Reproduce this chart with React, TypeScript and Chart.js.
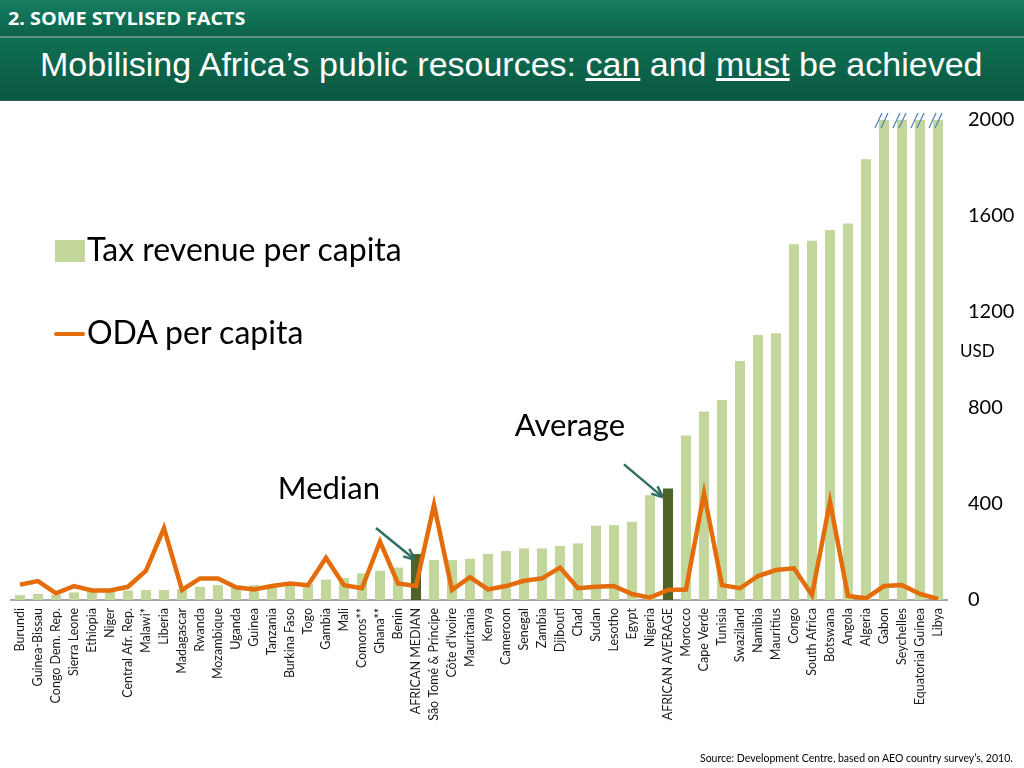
import React, { useEffect, useRef } from "react";
import { Chart, registerables } from "chart.js";

Chart.register(...registerables);

const categories: string[] = [
  "Burundi", "Guinea-Bissau", "Congo Dem. Rep.", "Sierra Leone", "Ethiopia", "Niger",
  "Central Afr. Rep.", "Malawi*", "Liberia", "Madagascar", "Rwanda", "Mozambique",
  "Uganda", "Guinea", "Tanzania", "Burkina Faso", "Togo", "Gambia", "Mali", "Comoros**",
  "Ghana**", "Benin", "AFRICAN MEDIAN", "São Tomé & Principe", "Côte d'Ivoire",
  "Mauritania", "Kenya", "Cameroon", "Senegal", "Zambia", "Djibouti", "Chad", "Sudan",
  "Lesotho", "Egypt", "Nigeria", "AFRICAN AVERAGE", "Morocco", "Cape Verde", "Tunisia",
  "Swaziland", "Namibia", "Mauritius", "Congo", "South Africa", "Botswana", "Angola",
  "Algeria", "Gabon", "Seychelles", "Equatorial Guinea", "Libya",
];

// Tax revenue per capita (USD); bars beyond 2000 are shown cut at the axis maximum
const taxRevenue: number[] = [
  20, 25, 22, 32, 35, 35, 40, 42, 42, 45, 55, 62,
  52, 62, 55, 58, 65, 85, 92, 111,
  122, 135, 192, 167, 167,
  172, 192, 204, 215, 215, 225, 236, 310,
  312, 326, 436, 465, 685, 785, 833,
  996, 1104, 1111, 1482, 1497, 1542, 1569,
  1836, 2000, 2000, 2000, 2000,
];

// ODA per capita (USD)
const odaPerCapita: number[] = [
  64, 79, 28, 58, 40, 40, 55, 122, 299, 42, 90, 90,
  53, 44, 58, 69, 62, 176, 62, 49,
  243, 69, 58, 396, 42,
  95, 44, 58, 80, 90, 135, 49, 55,
  58, 25, 10, 42, 44, 444, 62,
  49, 100, 125, 132, 21, 410, 17,
  7, 58, 62, 25, 4,
];

const yTicks: number[] = [0, 400, 800, 1200, 1600, 2000];
const cappedAt = 2000;

const LIGHT_GREEN = "#c3d69b";
const DARK_GREEN = "#4f6228";
const ORANGE = "#e46c0a";
const FONT = "Lato, 'Open Sans', sans-serif";

const annotationPlugin = {
  id: "annotations",
  afterDatasetsDraw(chart: any) {
    const { ctx } = chart;
    const x = chart.scales.x;
    const y = chart.scales.y;
    const drawArrow = (x1: number, y1: number, x2: number, y2: number) => {
      ctx.save();
      ctx.strokeStyle = "#2f6e60";
      ctx.lineWidth = 2.5;
      ctx.beginPath();
      ctx.moveTo(x1, y1);
      ctx.lineTo(x2, y2);
      ctx.stroke();
      const ang = Math.atan2(y2 - y1, x2 - x1);
      const len = 11;
      ctx.beginPath();
      ctx.moveTo(x2 + 1, y2 + 1);
      ctx.lineTo(x2 - len * Math.cos(ang - 0.45), y2 - len * Math.sin(ang - 0.45));
      ctx.moveTo(x2 + 1, y2 + 1);
      ctx.lineTo(x2 - len * Math.cos(ang + 0.45), y2 - len * Math.sin(ang + 0.45));
      ctx.stroke();
      ctx.restore();
    };
    const mi = categories.indexOf("AFRICAN MEDIAN");
    const ai = categories.indexOf("AFRICAN AVERAGE");
    const xm = x.getPixelForValue(mi);
    const ym = y.getPixelForValue(taxRevenue[mi]);
    const xa = x.getPixelForValue(ai);
    const ya = y.getPixelForValue(taxRevenue[ai]);

    ctx.save();
    ctx.fillStyle = "#000";
    ctx.font = `31px ${FONT}`;
    ctx.textAlign = "right";
    ctx.textBaseline = "alphabetic";
    ctx.fillText("Median", xm - 36, ym - 55);
    ctx.fillText("Average", xa - 43, ya - 52);
    ctx.restore();

    drawArrow(xm - 40, ym - 26, xm - 2, ym + 5);
    drawArrow(xa - 44, ya - 24, xa - 6, ya + 8);

    // break marks on bars cut at the axis maximum
    ctx.save();
    ctx.strokeStyle = "#4a7ebb";
    ctx.lineWidth = 1.2;
    taxRevenue.forEach((v, i) => {
      if (v >= cappedAt) {
        const cx = x.getPixelForValue(i);
        const cy = y.getPixelForValue(cappedAt);
        [-9, -3].forEach((off) => {
          ctx.beginPath();
          ctx.moveTo(cx + off, cy + 8);
          ctx.lineTo(cx + off + 7, cy - 7);
          ctx.stroke();
        });
      }
    });
    ctx.restore();
  },
};

function ChartCanvas() {
  const ref = useRef<HTMLCanvasElement | null>(null);
  useEffect(() => {
    if (!ref.current) return;
    const barColors = categories.map((c) =>
      c.startsWith("AFRICAN") ? DARK_GREEN : LIGHT_GREEN
    );
    const chart = new Chart(ref.current, {
      type: "bar",
      data: {
        labels: categories,
        datasets: [
          {
            type: "line",
            label: "ODA per capita",
            data: odaPerCapita,
            borderColor: ORANGE,
            backgroundColor: ORANGE,
            borderWidth: 4.5,
            pointRadius: 0,
            tension: 0,
            order: 0,
          } as any,
          {
            type: "bar",
            label: "Tax revenue per capita",
            data: taxRevenue,
            backgroundColor: barColors,
            barPercentage: 0.56,
            categoryPercentage: 1,
            order: 1,
          },
        ],
      },
      options: {
        responsive: false,
        animation: false,
        maintainAspectRatio: false,
        layout: { padding: { top: 120, left: 11, right: 0, bottom: 0 } },
        plugins: {
          legend: { display: false },
          tooltip: { enabled: false },
        },
        scales: {
          x: {
            grid: { display: false, drawTicks: false },
            border: { display: true, color: "#a6a6a6", width: 2 },
            ticks: {
              autoSkip: false,
              minRotation: 90,
              maxRotation: 90,
              padding: 8,
              color: "#1a1a1a",
              font: { family: FONT, size: 12.5 },
            },
            afterFit(scale: any) {
              scale.height = 168;
            },
          },
          y: {
            position: "right",
            min: 0,
            max: 2000,
            afterBuildTicks(scale: any) {
              scale.ticks = yTicks.map((v) => ({ value: v }));
            },
            grid: { display: false, drawTicks: false },
            border: { display: false },
            ticks: {
              padding: 21,
              color: "#000",
              font: { family: FONT, size: 20 },
              callback: (v: any) => String(v),
            },
            afterFit(scale: any) {
              scale.width = 77;
            },
          },
        },
      },
      plugins: [annotationPlugin],
    });
    return () => chart.destroy();
  }, []);
  return (
    <canvas
      ref={ref}
      width={1024}
      height={768}
      style={{ position: "absolute", left: 0, top: 0, width: 1024, height: 768 }}
    />
  );
}

export default function App() {
  return (
    <div
      style={{
        position: "absolute",
        left: 0,
        top: 0,
        width: 1024,
        height: 768,
        background: "#fff",
        overflow: "hidden",
        fontFamily: FONT,
      }}
    >
      <ChartCanvas />
      <div
        style={{
          position: "absolute",
          left: 0,
          top: 0,
          width: 1024,
          height: 36,
          background: "linear-gradient(#167d60, #0c6349)",
          borderBottom: "2px solid #5f8f80",
        }}
      >
        <div
          style={{
            position: "absolute",
            left: 8,
            top: 6,
            color: "#fff",
            fontWeight: 700,
            fontSize: 18,
            fontFamily: "'Open Sans', sans-serif",
            transform: "scaleX(1.1)",
            transformOrigin: "left center",
            whiteSpace: "nowrap",
            lineHeight: "24px",
          }}
        >
          2. SOME STYLISED FACTS
        </div>
      </div>
      <div
        style={{
          position: "absolute",
          left: 0,
          top: 38,
          width: 1024,
          height: 62,
          background: "linear-gradient(#0f6f53, #0a5841)",
          borderBottom: "1px solid #2f5e50",
        }}
      >
        <div
          style={{
            position: "absolute",
            left: 40,
            top: 6,
            color: "#fff",
            fontSize: 34,
            fontFamily: "'Liberation Sans', Arial, sans-serif",
            whiteSpace: "nowrap",
            lineHeight: "40px",
          }}
        >
          Mobilising Africa’s public resources: <u>can</u> and <u>must</u> be achieved
        </div>
      </div>

      <div style={{ position: "absolute", left: 55, top: 240, width: 30, height: 22, background: LIGHT_GREEN }} />
      <div style={{ position: "absolute", left: 87, top: 229, fontSize: 32, lineHeight: "40px", color: "#000", whiteSpace: "nowrap" }}>
        Tax revenue per capita
      </div>
      <div style={{ position: "absolute", left: 54, top: 332, width: 31, height: 4, background: ORANGE, borderRadius: 2 }} />
      <div style={{ position: "absolute", left: 87, top: 312, fontSize: 32, lineHeight: "40px", color: "#000", whiteSpace: "nowrap" }}>
        ODA per capita
      </div>

      <div style={{ position: "absolute", left: 960, top: 340, fontSize: 17, color: "#000" }}>USD</div>

      <div
        style={{
          position: "absolute",
          left: 700,
          top: 752,
          fontSize: 10.5,
          color: "#000",
          whiteSpace: "nowrap",
        }}
      >
        Source: Development Centre, based on AEO country survey’s, 2010.
      </div>
    </div>
  );
}
